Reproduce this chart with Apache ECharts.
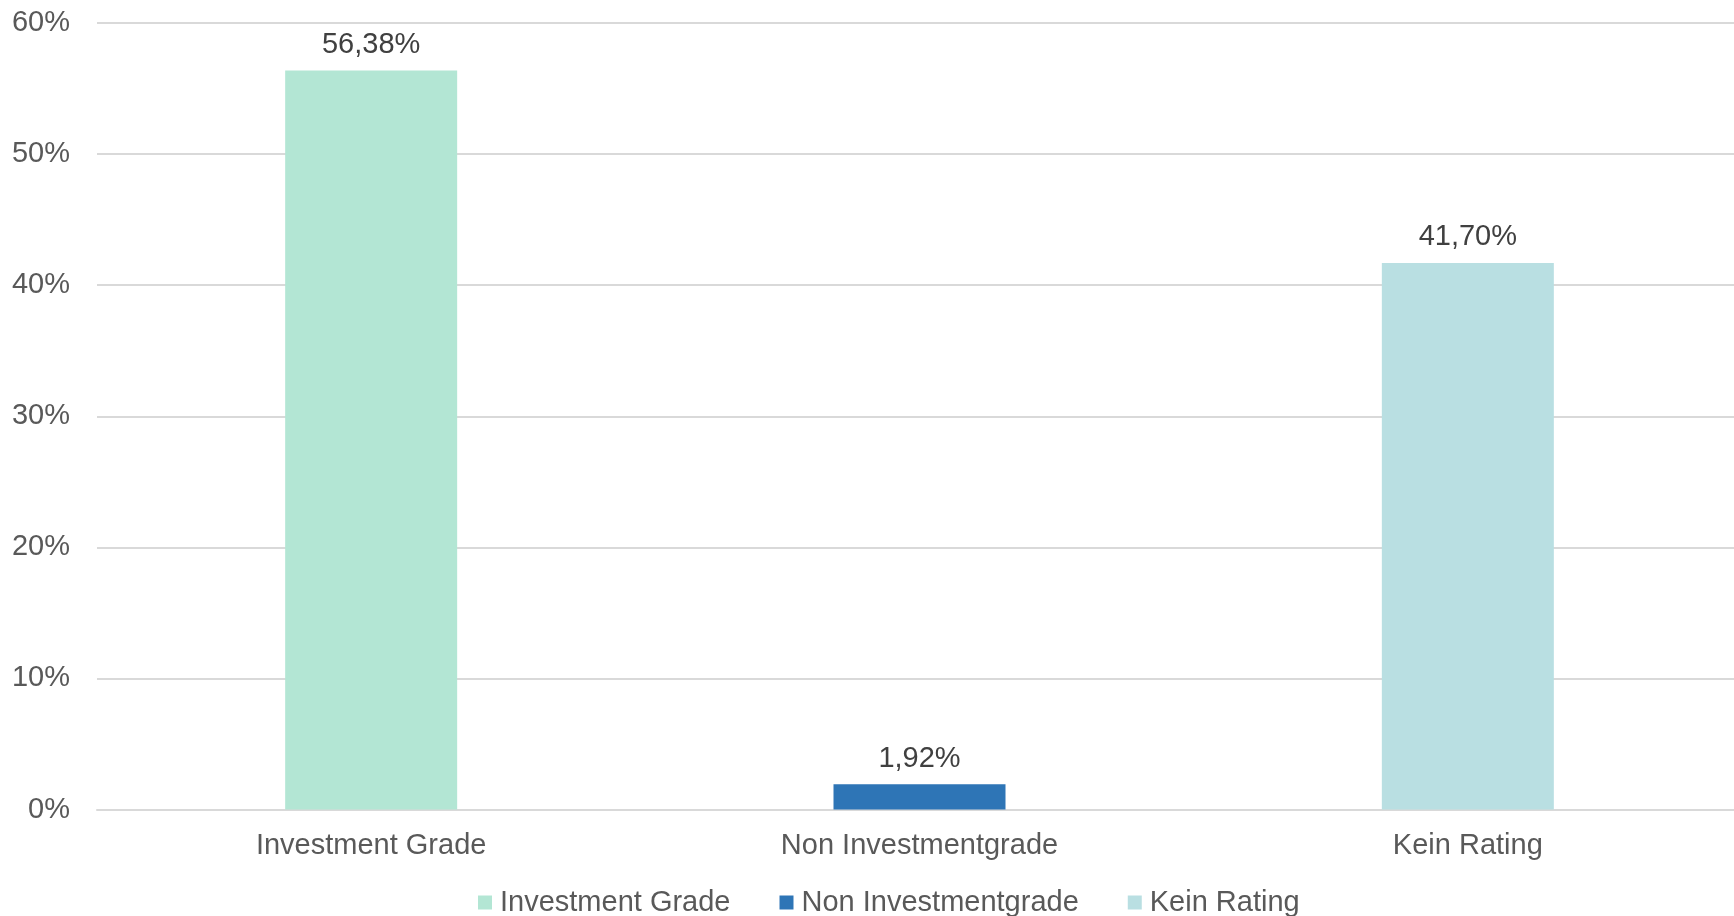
<!DOCTYPE html>
<html>
<head>
<meta charset="utf-8">
<script src="https://cdn.jsdelivr.net/npm/echarts@6/dist/echarts.min.js"></script>
<style>
  html, body { margin: 0; padding: 0; background: #fff; overflow: hidden; }
  /* etwas breiter als das Fenster: Plotfläche läuft rechts aus dem Bild */
  #chart { width: 1742px; height: 916px; }
</style>
</head>
<body>
<div id="chart"></div>
<script>
// Daten
const categories = ['Investment Grade', 'Non Investmentgrade', 'Kein Rating'];
const values = [56.38, 1.92, 41.70];
const colors = ['#b3e6d4', '#2e75b6', '#b9dfe2'];
const yTicks = { min: 0, max: 60, interval: 10 };

const chart = echarts.init(document.getElementById('chart'));

const fmt = v => v.toFixed(2).replace('.', ',') + '%';

// eine Serie je Kategorie, damit die Legende drei Einträge hat
const series = categories.map((name, i) => ({
  name: name,
  type: 'bar',
  stack: 'all',
  barWidth: 172,
  itemStyle: { color: colors[i] },
  data: categories.map((c, j) => (j === i ? values[i] : '-')),
  label: {
    show: true,
    position: 'top',
    distance: 11,
    color: '#404040',
    fontSize: 29,
    fontFamily: 'Liberation Sans',
    formatter: p => fmt(p.value)
  }
}));

const option = {
  animation: false,
  textStyle: { fontFamily: 'Liberation Sans' },
  grid: { left: 97, right: 0, top: 23, bottom: 106.5 },
  legend: {
    left: 473,
    top: 883,
    itemWidth: 14,
    itemHeight: 14,
    itemGap: 49,
    icon: 'rect',
    textStyle: { color: '#595959', fontSize: 29, fontFamily: 'Liberation Sans', padding: [0, 0, 0, 3] },
    data: categories
  },
  xAxis: {
    type: 'category',
    data: categories,
    axisTick: { show: false },
    axisLine: { lineStyle: { color: '#d9d9d9', width: 2 } },
    axisLabel: { color: '#595959', fontSize: 29, margin: 22, fontFamily: 'Liberation Sans' }
  },
  yAxis: {
    type: 'value',
    min: yTicks.min,
    max: yTicks.max,
    interval: yTicks.interval,
    axisLine: { show: false },
    axisTick: { show: false },
    splitLine: { lineStyle: { color: '#d9d9d9', width: 2 } },
    axisLabel: { color: '#595959', fontSize: 29, margin: 27, formatter: '{value}%', fontFamily: 'Liberation Sans' }
  },
  series: series
};

chart.setOption(option);
</script>
</body>
</html>
